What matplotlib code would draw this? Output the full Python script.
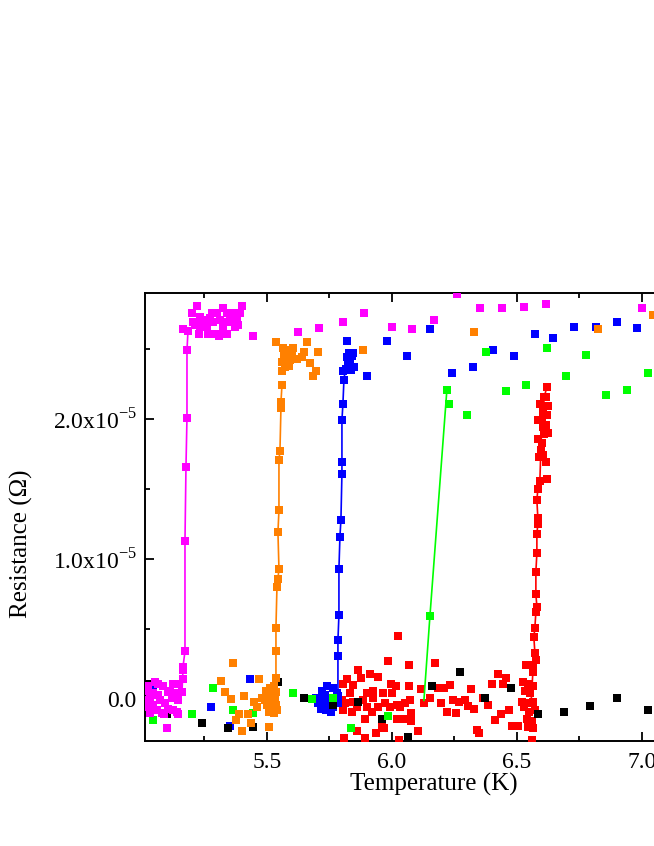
import numpy as np
import matplotlib
matplotlib.use("Agg")
from matplotlib import pyplot as plt
from matplotlib.ticker import MultipleLocator

# resistance values below are in units of 1e-5 Ohm, temperature in K

# magenta sample: transition points (joined by the line) and the rest
mag_tr_T = [5.160, 5.164, 5.164, 5.172, 5.172, 5.176, 5.180, 5.180, 5.184]
mag_tr_R = [0.05, 0.21, 0.23, 0.34, 1.13, 1.66, 2.01, 2.49, 2.63]
mag_T = [5.052, 5.064, 5.024, 5.084, 5.124, 5.148, 5.140, 5.104, 5.044, 5.032,
         5.072, 5.120, 5.144, 5.092, 5.044, 5.024, 5.060, 5.104, 5.140, 5.080,
         5.032, 5.144, 5.088, 5.100, 5.124, 5.020, 5.016, 5.112, 5.064, 5.164,
         5.220, 5.200, 5.164, 5.204, 5.232, 5.260, 5.280, 5.300, 5.324, 5.340,
         5.372, 5.400, 5.392, 5.380, 5.360, 5.332, 5.312, 5.284, 5.260, 5.232,
         5.212, 5.228, 5.264, 5.292, 5.308, 5.340, 5.372, 5.384, 5.324, 5.352,
         5.272, 5.244,
         5.444, 5.624, 5.708, 5.804, 5.888, 6.000, 6.080, 6.168, 6.260, 6.352,
         6.440, 6.528, 6.616, 7.000]
mag_R = [0.12, 0.11, 0.09, 0.09, 0.11, 0.11, 0.04, 0.05, 0.04, 0.01,
         -0.01, 0.01, -0.01, -0.03, -0.04, -0.06, -0.08, -0.07, -0.09, -0.10,
         -0.10, -0.11, -0.11, -0.21, -0.08, -0.01, 0.06, 0.06, 0.03, 0.14,
         2.81, 2.76, 2.64, 2.69, 2.73, 2.71, 2.76, 2.76, 2.79, 2.76,
         2.76, 2.81, 2.76, 2.71, 2.69, 2.69, 2.71, 2.69, 2.66, 2.66,
         2.67, 2.61, 2.61, 2.61, 2.59, 2.61, 2.66, 2.67, 2.65, 2.73,
         2.72, 2.69,
         2.59, 2.62, 2.65, 2.69, 2.76, 2.66, 2.64, 2.71, 2.89, 2.79,
         2.79, 2.80, 2.82, 2.79]

# orange sample
ora_tr_T = [5.536, 5.536, 5.536, 5.536, 5.540, 5.544, 5.548, 5.544, 5.548,
            5.548, 5.552, 5.556, 5.556, 5.560]
ora_tr_R = [0.05, 0.15, 0.34, 0.51, 0.80, 0.86, 0.93, 1.19, 1.35,
            1.71, 1.77, 2.08, 2.12, 2.24]
ora_T = [5.364, 5.316, 5.332, 5.356, 5.408, 5.468, 5.448, 5.460, 5.388, 5.376,
         5.424, 5.436, 5.400, 5.508,
         5.496, 5.512, 5.528, 5.504, 5.520, 5.536, 5.492, 5.512, 5.532, 5.500,
         5.520, 5.536, 5.508, 5.528, 5.480, 5.540,
         5.536, 5.564, 5.584, 5.604, 5.568, 5.580, 5.600, 5.560, 5.592, 5.620,
         5.640, 5.572, 5.590, 5.660, 5.648, 5.704, 5.672, 5.696, 5.684, 5.560,
         5.884, 6.328, 6.824, 7.044]
ora_R = [0.26, 0.13, 0.05, 0.00, 0.02, 0.14, -0.02, -0.06, -0.11, -0.15,
         -0.11, -0.17, -0.23, -0.20,
         0.06, 0.08, 0.09, 0.03, 0.04, 0.05, -0.01, -0.01, 0.00, -0.04,
         -0.06, -0.04, -0.09, -0.10, 0.01, -0.08,
         2.55, 2.51, 2.49, 2.51, 2.46, 2.44, 2.46, 2.41, 2.42, 2.43,
         2.44, 2.37, 2.38, 2.55, 2.48, 2.48, 2.40, 2.34, 2.31, 2.34,
         2.49, 2.62, 2.64, 2.74]

# blue sample
blu_tr_T = [5.784, 5.784, 5.784, 5.788, 5.788, 5.792, 5.796, 5.800, 5.800,
            5.800, 5.804, 5.808, 5.820]
blu_tr_R = [0.02, 0.31, 0.42, 0.60, 0.93, 1.16, 1.28, 1.61, 1.69,
            1.99, 2.11, 2.28, 2.44]
blu_T = [5.720, 5.740, 5.764, 5.780, 5.712, 5.732, 5.752, 5.772, 5.704, 5.724,
         5.744, 5.764, 5.736, 5.756, 5.716, 5.784, 5.696,
         5.804, 5.816, 5.824, 5.832, 5.840, 5.828, 5.844, 5.848, 5.836, 5.820,
         5.820, 5.900, 5.980, 6.060, 6.152, 6.240, 6.324, 6.404, 6.488, 6.572,
         6.644, 6.728, 6.816, 6.900, 6.980,
         5.432, 5.276, 5.352, 5.044]
blu_R = [0.06, 0.09, 0.08, 0.04, 0.01, 0.03, 0.01, -0.01, -0.03, -0.04,
         -0.03, -0.06, -0.08, -0.09, -0.07, -0.03, 0.01,
         2.34, 2.36, 2.39, 2.42, 2.45, 2.47, 2.47, 2.37, 2.35, 2.44,
         2.56, 2.31, 2.56, 2.45, 2.64, 2.33, 2.37, 2.49, 2.45, 2.61,
         2.58, 2.66, 2.66, 2.69, 2.65,
         0.14, -0.06, -0.19, 0.09]

# green sample
grn_tr_T = [6.128, 6.152, 6.220]
grn_tr_R = [-0.01, 0.59, 2.21]
grn_T = [6.228, 6.300, 6.376, 6.456, 6.536, 6.620, 6.696, 6.776, 6.856, 6.940,
         7.024,
         5.284, 5.364, 5.200, 5.044, 5.444, 5.604, 5.680, 5.764, 5.836, 5.984]
grn_R = [2.11, 2.03, 2.48, 2.20, 2.24, 2.51, 2.31, 2.46, 2.17, 2.21,
         2.33,
         0.08, -0.08, -0.11, -0.15, -0.10, 0.04, 0.00, 0.01, -0.21, -0.12]

# red sample
red_tr_T = [6.556, 6.564, 6.572, 6.568, 6.572, 6.576, 6.580, 6.576, 6.576,
            6.580, 6.580, 6.584, 6.584, 6.580, 6.584, 6.592, 6.596, 6.600,
            6.604, 6.610, 6.620]
red_tr_R = [-0.05, 0.19, 0.33, 0.44, 0.51, 0.62, 0.66, 0.75, 0.91,
            1.04, 1.18, 1.25, 1.29, 1.42, 1.50, 1.56, 1.78, 1.99,
            2.05, 2.16, 2.23]
red_T = [6.576, 6.564, 6.536, 6.524, 6.544, 6.564, 6.532, 6.552, 6.520, 6.540,
         6.564, 6.528, 6.548, 6.572, 6.540, 6.560, 6.544, 6.564, 6.560,
         6.620, 6.616, 6.592, 6.624, 6.620, 6.584, 6.616, 6.604, 6.624, 6.608,
         6.584, 6.600, 6.604, 6.588, 6.616, 6.620,
         5.864, 5.984, 6.068, 6.172, 5.804, 5.820, 5.912, 5.944, 5.876, 5.844,
         5.996, 6.016, 6.068, 5.924, 5.964, 6.000, 5.900, 5.832, 5.800, 5.812,
         5.844, 5.884, 5.924, 5.972, 6.020, 6.052, 6.072, 5.860, 5.900, 5.944,
         5.992, 6.032, 5.804, 5.840, 5.920, 6.076, 5.892, 6.020, 6.044, 6.076,
         5.960, 5.968, 5.936, 5.860, 6.104, 5.808, 5.892, 6.028, 6.116, 6.152,
         6.128, 6.184, 6.208, 6.232, 6.316, 6.196, 6.220, 6.256, 6.244, 6.268,
         6.292, 6.304, 6.328, 6.364, 6.384, 6.400, 6.424, 6.444, 6.456, 6.468,
         6.436, 6.412, 6.480, 6.504, 6.340, 6.348, 6.024]
red_R = [0.28, 0.24, 0.24, 0.12, 0.11, 0.09, 0.06, 0.04, -0.02, -0.03,
         -0.02, -0.06, -0.09, -0.08, -0.14, -0.16, -0.20, -0.21, -0.29,
         1.57, 1.69, 2.11, 2.09, 2.03, 1.99, 1.96, 1.94, 1.90, 1.89,
         1.86, 1.83, 1.74, 1.73, 2.16, 2.09,
         0.21, 0.27, 0.24, 0.26, 0.11, 0.14, 0.18, 0.16, 0.15, 0.10,
         0.11, 0.09, 0.09, 0.06, 0.04, 0.04, 0.04, 0.04, -0.01, -0.03,
         -0.02, -0.01, 0.01, -0.03, -0.04, -0.03, -0.01, -0.06, -0.06, -0.06,
         -0.06, -0.06, -0.08, -0.09, -0.09, -0.10, -0.14, -0.14, -0.14, -0.16,
         -0.19, -0.21, -0.24, -0.23, -0.23, -0.28, -0.28, -0.29, 0.07, 0.01,
         -0.03, 0.08, 0.08, 0.10, 0.07, -0.03, -0.09, -0.10, -0.01, -0.02,
         -0.01, -0.05, -0.07, 0.01, -0.04, 0.11, 0.18, 0.11, 0.15, -0.08,
         -0.11, -0.15, -0.19, -0.19, -0.22, -0.24, 0.45]

# black sample (no transition in range)
blk_T = [5.020, 5.100, 5.240, 5.344, 5.444, 5.544, 5.648, 5.764, 5.864, 5.960,
         6.064, 6.160, 6.272, 6.372, 6.476, 6.584, 6.688, 6.792, 6.900, 7.024]
blk_R = [0.11, -0.11, -0.17, -0.21, -0.20, 0.12, 0.01, -0.04, -0.02, -0.14,
         -0.27, 0.09, 0.19, 0.01, 0.08, -0.11, -0.09, -0.05, 0.01, -0.08]

plt.rcParams['font.family'] = 'Liberation Serif'
plt.rcParams['mathtext.fontset'] = 'custom'
plt.rcParams['mathtext.rm'] = 'Liberation Serif'

fig = plt.figure(figsize=(6.54, 8.46), dpi=100)
ax = fig.add_axes([0.2217, 0.1241, 0.882, 0.5296])

scale = 1e-5
ms = 5.2

# drawing order: red, blue, black, green, orange, magenta
ax.plot(np.array(red_tr_T), np.array(red_tr_R)*scale, '-', color='#ff0000', lw=1.2, zorder=2)
ax.plot(np.array(red_T + red_tr_T[1:]), np.array(red_R + red_tr_R[1:])*scale, 's',
        color='#ff0000', ms=ms, mew=0, zorder=3)

ax.plot(np.array(blu_tr_T), np.array(blu_tr_R)*scale, '-', color='#0000ff', lw=1.2, zorder=4)
ax.plot(np.array(blu_T + blu_tr_T), np.array(blu_R + blu_tr_R)*scale, 's',
        color='#0000ff', ms=ms, mew=0, zorder=5)

ax.plot(np.array(blk_T), np.array(blk_R)*scale, 's', color='k', ms=ms, mew=0, zorder=6)

ax.plot(np.array(grn_tr_T), np.array(grn_tr_R)*scale, '-', color='#00ff00', lw=1.2, zorder=7)
ax.plot(np.array(grn_T + grn_tr_T[1:]), np.array(grn_R + grn_tr_R[1:])*scale, 's',
        color='#00ff00', ms=ms, mew=0, zorder=8)

ax.plot(np.array(ora_tr_T), np.array(ora_tr_R)*scale, '-', color='#ff8000', lw=1.2, zorder=9)
ax.plot(np.array(ora_T + ora_tr_T), np.array(ora_R + ora_tr_R)*scale, 's',
        color='#ff8000', ms=ms, mew=0, zorder=10)

ax.plot(np.array(mag_tr_T), np.array(mag_tr_R)*scale, '-', color='#ff00ff', lw=1.2, zorder=11)
ax.plot(np.array(mag_T + mag_tr_T), np.array(mag_R + mag_tr_R)*scale, 's',
        color='#ff00ff', ms=ms, mew=0, zorder=12)

ax.set_xlim(5.012, 7.32)
ax.set_ylim(-0.3e-5, 2.9e-5)

ax.set_xticks([5.5, 6.0, 6.5, 7.0])
ax.set_xticklabels(['5.5', '6.0', '6.5', '7.0'])
ax.xaxis.set_minor_locator(MultipleLocator(0.25))
ax.set_yticks([0, 1e-5, 2e-5])
ax.set_yticklabels(['0.0', r'1.0x10$^{\mathregular{-5}}$', r'2.0x10$^{\mathregular{-5}}$'])
ax.yaxis.set_minor_locator(MultipleLocator(0.5e-5))

ax.tick_params(which='both', direction='in', top=True, right=False, width=1.3,
               labelsize=17)
ax.tick_params(which='major', length=6.5)
ax.tick_params(which='minor', length=3.5)
ax.tick_params(axis='x', pad=8)
ax.tick_params(axis='y', pad=6)
for s in ax.spines.values():
    s.set_linewidth(1.4)

ax.set_xlabel('Temperature (K)', fontsize=18)
ax.set_ylabel('Resistance (\u03a9)', fontsize=18)
ax.xaxis.set_label_coords(0.5, -0.072)
ax.yaxis.set_label_coords(-0.195, 0.44)

fig.savefig('out.png', dpi=100)
